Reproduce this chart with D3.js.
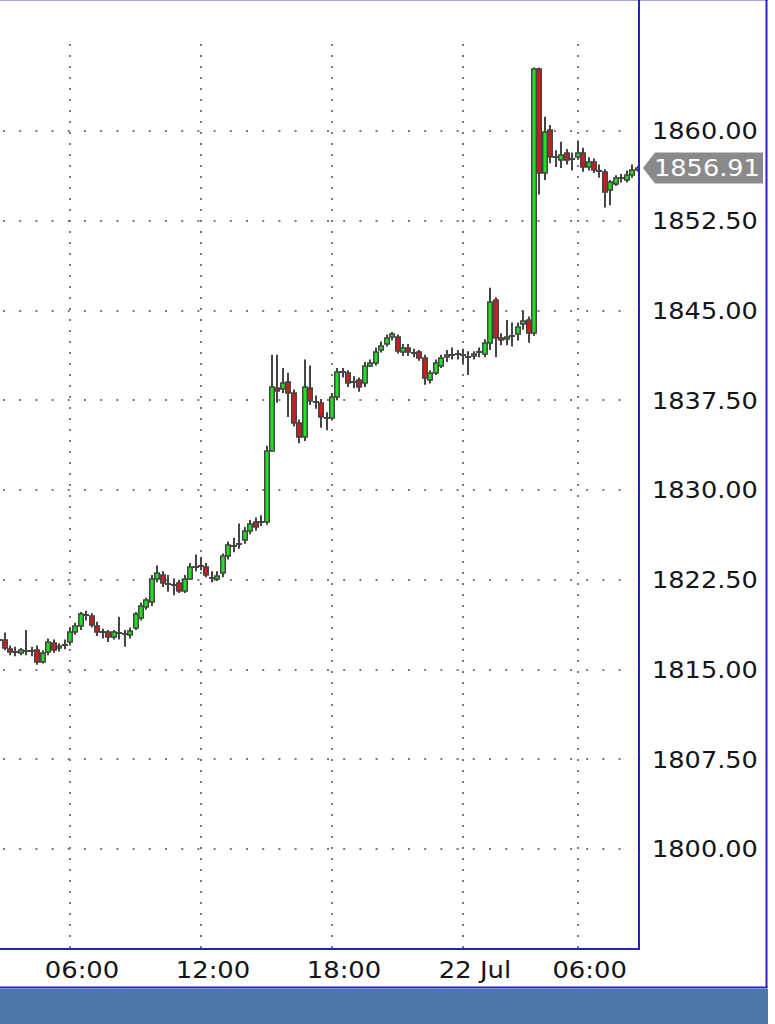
<!DOCTYPE html>
<html><head><meta charset="utf-8">
<script src="https://cdn.jsdelivr.net/npm/d3@7"></script>
<style>html,body{margin:0;padding:0;background:#fff;} svg{display:block;}</style>
</head><body>
<script>
const opens = [1817.5,1817.5,1816.7,1816.5,1816.4,1816.6,1816.5,1816.6,1815.6,1816.5,1817.2,1816.8,1817.0,1817.3,1818.1,1818.6,1819.6,1819.5,1818.6,1818.1,1818.1,1817.7,1818.1,1818.0,1817.9,1818.5,1819.3,1820.2,1820.6,1822.6,1822.9,1822.2,1822.1,1822.2,1821.6,1822.6,1823.6,1823.6,1823.6,1822.7,1822.6,1823.1,1824.5,1825.4,1825.5,1825.8,1826.6,1827.3,1827.3,1827.3,1833.3,1838.5,1838.4,1839.0,1838.1,1835.6,1834.4,1838.5,1837.4,1837.3,1836.0,1836.0,1837.8,1839.9,1839.8,1839.0,1839.2,1838.9,1840.4,1840.6,1841.7,1842.2,1842.8,1842.8,1841.5,1841.9,1841.5,1841.5,1841.0,1839.2,1839.8,1840.4,1841.1,1841.3,1841.3,1841.3,1841.2,1841.2,1841.5,1841.4,1842.3,1845.9,1842.7,1842.6,1842.8,1843.0,1843.9,1844.2,1843.1,1865.2,1856.5,1860.1,1857.8,1857.6,1858.2,1857.7,1857.8,1858.2,1857.0,1857.4,1856.7,1856.6,1855.1,1855.6,1856.1,1855.9,1856.3,1856.7];
const highs = [1817.8,1818.1,1817.0,1816.9,1816.8,1818.3,1816.9,1817.0,1816.6,1817.6,1817.5,1817.2,1817.5,1818.5,1818.9,1819.8,1819.9,1819.7,1819.0,1818.4,1818.3,1818.3,1819.4,1818.3,1818.5,1819.8,1820.6,1821.0,1822.9,1823.7,1823.2,1822.9,1822.6,1822.5,1822.9,1823.9,1824.6,1824.4,1823.9,1823.2,1823.2,1824.7,1825.7,1826.0,1827.2,1826.9,1827.5,1827.7,1827.9,1833.7,1841.3,1841.3,1840.2,1839.8,1838.4,1835.9,1840.9,1840.4,1837.9,1837.6,1836.5,1838.1,1840.2,1840.2,1840.0,1839.5,1839.4,1840.7,1840.9,1841.9,1842.4,1843.0,1843.2,1843.0,1842.2,1842.2,1841.8,1841.7,1841.3,1840.0,1840.9,1841.3,1841.7,1841.9,1841.7,1841.8,1841.6,1841.6,1841.9,1842.6,1846.9,1846.1,1843.1,1844.2,1844.0,1844.0,1845.0,1844.5,1865.3,1865.3,1861.2,1860.5,1858.4,1859.1,1858.5,1858.2,1859.2,1858.6,1857.8,1857.7,1857.2,1856.8,1855.9,1856.3,1856.4,1856.7,1857.2,1857.1];
const lows = [1817.1,1816.6,1816.2,1816.1,1816.2,1816.2,1816.1,1815.4,1815.5,1816.2,1816.4,1816.5,1816.7,1817.0,1817.9,1818.3,1819.1,1818.5,1817.8,1817.6,1817.3,1817.5,1817.5,1816.9,1817.6,1818.3,1819.1,1820.0,1820.3,1822.3,1821.9,1821.5,1821.2,1821.4,1821.4,1822.5,1823.2,1823.3,1822.7,1822.3,1822.4,1822.7,1824.2,1824.8,1825.1,1825.5,1826.3,1826.6,1827.0,1827.1,1833.2,1837.3,1838.1,1836.1,1835.3,1833.9,1834.1,1837.1,1836.8,1835.2,1835.0,1835.8,1837.5,1839.4,1838.6,1838.5,1838.2,1838.6,1840.3,1840.4,1841.5,1842.0,1842.5,1841.4,1841.2,1841.2,1841.1,1840.8,1838.8,1838.9,1839.6,1840.2,1840.7,1840.9,1840.9,1840.6,1839.6,1840.9,1841.1,1841.1,1841.7,1841.1,1842.1,1842.1,1842.0,1842.5,1843.4,1842.3,1842.9,1854.7,1855.9,1857.3,1857.0,1856.9,1857.2,1856.7,1857.6,1856.6,1856.7,1856.5,1856.1,1853.6,1853.8,1855.4,1855.7,1855.7,1856.1,1856.6];
const closes = [1817.4,1816.8,1816.5,1816.4,1816.6,1816.5,1816.6,1815.6,1816.4,1817.3,1816.6,1817.0,1817.1,1818.1,1818.6,1819.6,1819.5,1818.7,1818.1,1818.1,1817.7,1818.1,1818.0,1817.9,1818.2,1819.6,1820.3,1820.8,1822.6,1823.1,1822.2,1822.1,1822.0,1821.6,1822.6,1823.6,1823.5,1823.7,1822.9,1822.6,1822.8,1824.5,1825.4,1825.3,1825.4,1826.6,1827.2,1826.9,1827.4,1833.3,1838.6,1838.3,1838.9,1838.1,1835.6,1834.4,1838.6,1837.4,1837.3,1836.1,1836.1,1837.8,1839.9,1839.8,1838.9,1839.0,1838.6,1840.4,1840.6,1841.5,1842.0,1842.7,1843.0,1841.6,1841.9,1841.5,1841.4,1841.0,1839.4,1839.8,1840.6,1841.0,1841.3,1841.2,1841.4,1841.2,1841.1,1841.4,1841.6,1842.3,1845.7,1842.7,1842.5,1842.8,1842.9,1843.6,1844.1,1843.1,1865.2,1856.5,1859.9,1857.8,1857.9,1858.0,1857.6,1857.6,1858.2,1857.0,1857.4,1856.7,1856.6,1854.9,1855.7,1856.1,1856.0,1856.3,1856.7,1856.91];
const timeLabels = ["06:00","12:00","18:00","22 Jul","06:00"];
const timeLabelBars = [13,37,61,85,106];
const priceTicks = [1800,1807.5,1815,1822.5,1830,1837.5,1845,1852.5,1860];
const lastPrice = 1856.91;

const W = 775, H = 1024;
const plotRight = 639, plotBottom = 949;
const svg = d3.select("body").append("svg").attr("width", W).attr("height", H);

const x = d3.scaleLinear().domain([13, 37]).range([70, 201]);
const y = d3.scaleLinear().domain([1800, 1860]).range([849, 131]);

svg.append("rect").attr("width", W).attr("height", H).attr("fill", "#fff");

svg.append("defs").append("clipPath").attr("id", "plotclip")
  .append("rect").attr("x", 0).attr("y", 0).attr("width", plotRight).attr("height", plotBottom);

const plot = svg.append("g").attr("clip-path", "url(#plotclip)");

// grid
plot.selectAll(".hg").data(priceTicks).enter().append("line")
  .attr("x1", 3).attr("x2", plotRight - 4)
  .attr("y1", d => Math.round(y(d))).attr("y2", d => Math.round(y(d)))
  .attr("stroke", "#7a7a7a").attr("stroke-width", 2)
  .attr("stroke-dasharray", "2 14.2");
plot.selectAll(".vg").data(timeLabelBars).enter().append("line")
  .attr("x1", d => Math.round(x(d))).attr("x2", d => Math.round(x(d)))
  .attr("y1", 44).attr("y2", plotBottom)
  .attr("stroke", "#7a7a7a").attr("stroke-width", 2)
  .attr("stroke-dasharray", "2 9");

// candles
const outline = "#454545";
const idx = d3.range(opens.length);
const g = plot.append("g");
idx.forEach(i => {
  const cx = Math.round(x(i));
  const o = opens[i], c = closes[i];
  g.append("line").attr("x1", cx).attr("x2", cx)
    .attr("y1", y(highs[i])).attr("y2", y(lows[i]))
    .attr("stroke", outline).attr("stroke-width", 2);
  const top = y(Math.max(o, c)), bot = y(Math.min(o, c));
  if (bot - top < 1.5) {
    const yy = Math.round((top + bot) / 2);
    g.append("line").attr("x1", cx - 3).attr("x2", cx + 3)
      .attr("y1", yy).attr("y2", yy).attr("stroke", outline).attr("stroke-width", 2);
  } else {
    g.append("rect").attr("x", cx - 2.25).attr("width", 4.5)
      .attr("y", Math.round(top)).attr("height", Math.max(1, Math.round(bot) - Math.round(top)))
      .attr("fill", c >= o ? "#22e022" : "#d41a1a")
      .attr("stroke", outline).attr("stroke-width", 1.5);
  }
});

// frame lines
svg.append("line").attr("x1", 0).attr("x2", 768).attr("y1", 0.5).attr("y2", 0.5)
  .attr("stroke", "#aaa6dc").attr("stroke-width", 1);
svg.append("line").attr("x1", plotRight).attr("x2", plotRight).attr("y1", 0).attr("y2", plotBottom + 1)
  .attr("stroke", "#2424b8").attr("stroke-width", 2);
svg.append("line").attr("x1", 0).attr("x2", plotRight + 1).attr("y1", plotBottom).attr("y2", plotBottom)
  .attr("stroke", "#2424b8").attr("stroke-width", 2);
svg.append("line").attr("x1", 766.5).attr("x2", 766.5).attr("y1", 0).attr("y2", 988)
  .attr("stroke", "#2424b8").attr("stroke-width", 2);
svg.append("line").attr("x1", 0).attr("x2", 767.5).attr("y1", 987.5).attr("y2", 987.5)
  .attr("stroke", "#2424b8").attr("stroke-width", 2);
svg.append("rect").attr("x", 0).attr("y", 989).attr("width", 768).attr("height", H - 989)
  .attr("fill", "#4a79a5");

// price labels (slightly widened glyphs like the reference)
const font = "'DejaVu Sans', sans-serif";
const sx = 1.09;
svg.selectAll(".pl").data(priceTicks).enter().append("text")
  .attr("transform", d => `translate(652,${y(d)}) scale(${sx},1)`)
  .attr("dy", "0.36em")
  .attr("font-family", font).attr("font-size", 23.5)
  .attr("fill", "#141414")
  .text(d => d3.format(".2f")(d));

// current price marker
const yl = y(lastPrice);
svg.append("path")
  .attr("d", `M${plotRight + 4},${yl} L${plotRight + 16},${yl - 15.5} L763,${yl - 15.5} L763,${yl + 15.5} L${plotRight + 16},${yl + 15.5} Z`)
  .attr("fill", "#8a8a8a");
svg.append("text")
  .attr("transform", `translate(654,${yl}) scale(${sx},1)`)
  .attr("dy", "0.36em")
  .attr("font-family", font).attr("font-size", 23.5)
  .attr("fill", "#fff")
  .text(d3.format(".2f")(lastPrice));

// time labels
svg.selectAll(".tl").data(timeLabelBars).enter().append("text")
  .attr("transform", d => `translate(${x(d) + 12},970) scale(1.1,1)`)
  .attr("dy", "0.36em")
  .attr("text-anchor", "middle")
  .attr("font-family", font).attr("font-size", 23.5)
  .attr("fill", "#141414")
  .text((d, i) => timeLabels[i]);
</script>
</body></html>
